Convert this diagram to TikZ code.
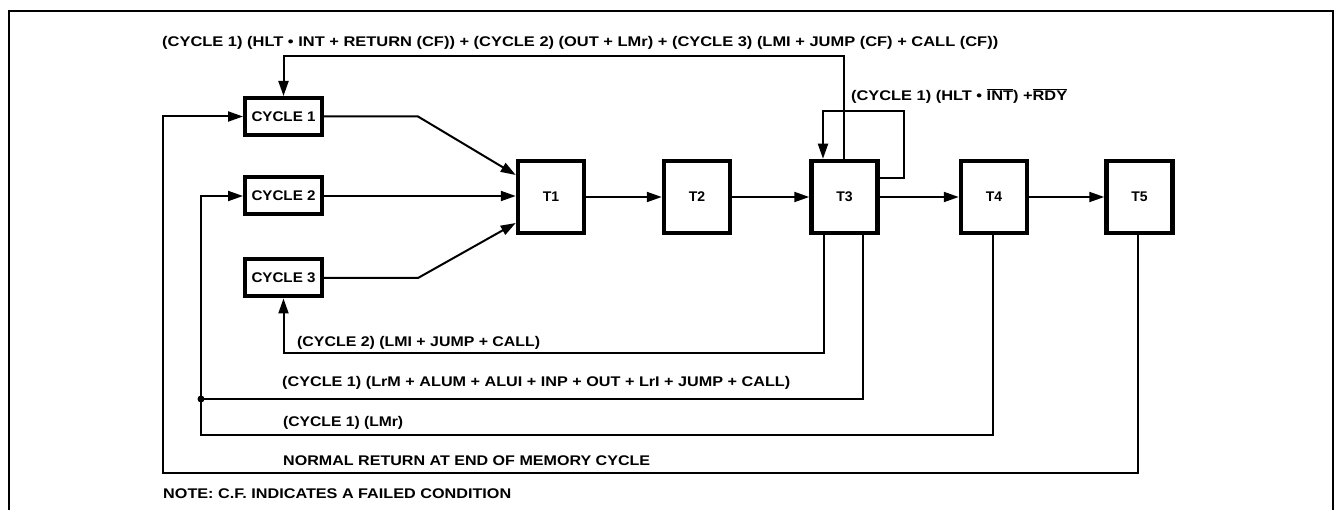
\documentclass[tikz,border=0pt]{standalone}
\usepackage{fontspec}
\setmainfont{Liberation Sans}
\usepackage{graphicx}
\usetikzlibrary{arrows.meta,calc}
\newcommand{\fitw}[2]{\resizebox{#1pt}{\height}{#2}}
\begin{document}
\begin{tikzpicture}[x=1pt,y=-1pt,
  lbl/.style={anchor=base west, inner sep=0pt, font=\fontsize{14}{16}\selectfont\bfseries},
  cyc/.style={draw, line width=4pt, minimum width=77pt, minimum height=37pt, inner sep=0pt, font=\fontsize{14}{16}\selectfont\bfseries},
  tbox/.style={draw, line width=4.5pt, minimum width=66pt, minimum height=72pt, inner sep=0pt, font=\fontsize{14}{16}\selectfont\bfseries},
  conn/.style={line width=2pt},
  arr/.style={conn, -{Triangle[length=15pt,width=10pt]}},
  frame/.style={line width=1.5pt}
]
\useasboundingbox (0,0) rectangle (1338,510);
% frame
\draw[frame] (9,512) -- (9,11) -- (1333,11) -- (1333,512);

% boxes
\node[cyc] (c1) at (283.5,116.5) {\fitw{64}{CYCLE 1}};
\node[cyc] (c2) at (283.5,196) {\fitw{64}{CYCLE 2}};
\node[cyc] (c3) at (283.5,278) {\fitw{64}{CYCLE 3}};
\node[tbox] (t1) at (551,197) {T1};
\node[tbox] (t2) at (697,197) {T2};
\node[tbox] (t3) at (844.5,197) {T3};
\node[tbox] (t4) at (994,197) {T4};
\node[tbox] (t5) at (1139.5,197) {T5};

% coordinates for bends
\coordinate (loopR) at (904,111);
\coordinate (jn) at (201,399);
\coordinate (lmrC) at (201,435);
\coordinate (nrC) at (163,473);

% forward flow
\draw[arr] (c1.east) -- ++(94,0) -- ($(t1.west)+(0,-22)$);
\draw[arr] (c2.east) -- (c2.east -| t1.west);
\draw[arr] (c3.east) -- ++(94,0) -- ($(t1.west)+(0,26)$);
\draw[arr] (t1.east) -- (t2.west);
\draw[arr] (t2.east) -- (t3.west);
\draw[arr] (t3.east) -- (t4.west);
\draw[arr] (t4.east) -- (t5.west);

% top feedback
\draw[arr] ($(t3.north)+(-1,0)$) |- ($(c1.north)+(0,-40)$) -- (c1.north);
% self loop
\draw[arr] ($(t3.east)+(0,-19)$) -| (loopR) -| ($(t3.north)+(-21.5,0)$);

% bottom returns
\draw[arr] ($(t3.south)+(-20.5,0)$) |- ($(c3.south)+(0,55)$) -- (c3.south);
\draw[conn] ($(t3.south)+(18.5,0)$) |- (jn);
\fill (jn) circle (3.5);
\draw[arr] ($(t4.south)+(-1,0)$) |- (lmrC) |- (c2.west);
\draw[arr] ($(t5.south)+(-1.5,0)$) |- (nrC) |- (c1.west);

% labels
\node[lbl] (ltop) at (162,47) {\fitw{836}{(CYCLE 1) (HLT • INT + RETURN (CF)) + (CYCLE 2) (OUT + LMr) + (CYCLE 3) (LMI + JUMP (CF) + CALL (CF))}};
\node[lbl] (lloop) at (851,100.5) {\fitw{216}{(CYCLE 1) (HLT • $\overline{\mbox{INT}}$) +$\overline{\mbox{RDY}}$}};
\node[lbl] (lc2) at (297,347) {\fitw{243}{(CYCLE 2) (LMI + JUMP + CALL)}};
\node[lbl] (llrm) at (282,386.5) {\fitw{508}{(CYCLE 1) (LrM + ALUM + ALUI + INP + OUT + LrI + JUMP + CALL)}};
\node[lbl] (llmr) at (283,426) {\fitw{120}{(CYCLE 1) (LMr)}};
\node[lbl] (lnr) at (283,465.3) {\fitw{367}{NORMAL RETURN AT END OF MEMORY CYCLE}};
\node[lbl] (lnote) at (163,498.5) {\fitw{348}{NOTE: C.F. INDICATES A FAILED CONDITION}};
\end{tikzpicture}
\end{document}
